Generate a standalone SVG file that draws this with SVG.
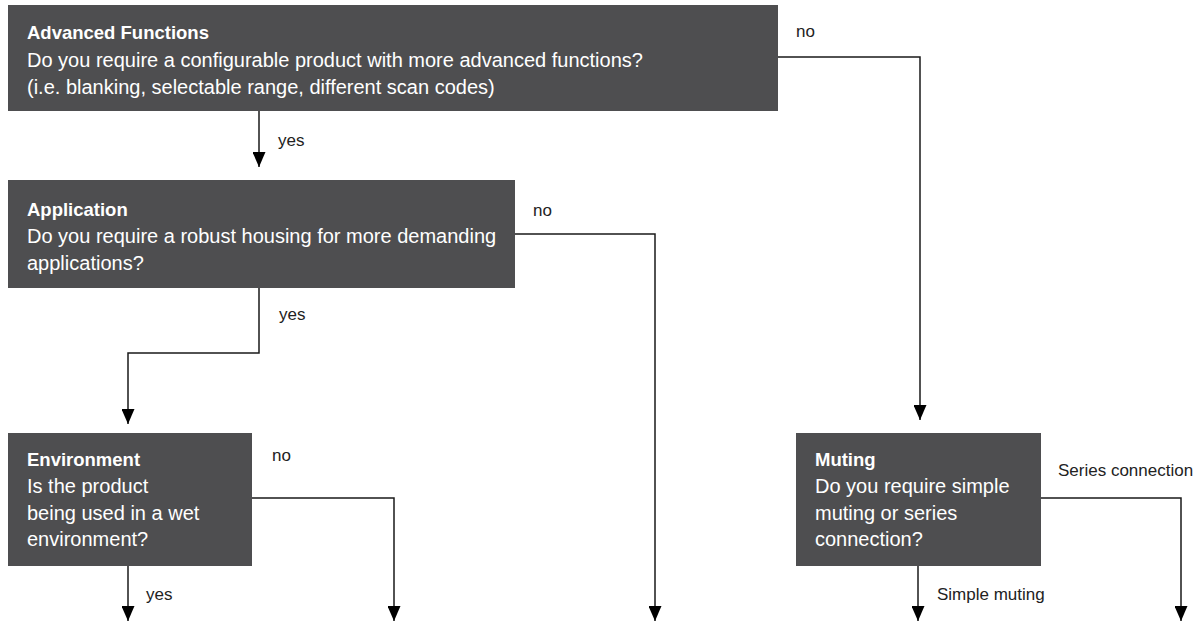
<svg xmlns="http://www.w3.org/2000/svg" width="1201" height="623" viewBox="0 0 1201 623">
  <style>
    .box { fill: #4e4e50; }
    .title { font-family: "Liberation Sans", Arial, sans-serif; font-weight: bold; font-size: 18.5px; fill: #ffffff; }
    .body { font-family: "Liberation Sans", Arial, sans-serif; font-size: 20px; fill: #ffffff; }
    .lbl { font-family: "Liberation Sans", Arial, sans-serif; font-size: 17px; fill: #222222; }
    .conn { fill: none; stroke: #1a1a1a; stroke-width: 1.5; marker-end: url(#arrow); }
  </style>
  <defs>
    <marker id="arrow" viewBox="0 0 15 13" refX="15" refY="6.5" markerWidth="16" markerHeight="13" markerUnits="userSpaceOnUse" orient="auto">
      <path d="M0,0 L15,6.5 L0,13 z" fill="#000000"/>
    </marker>
  </defs>
  <rect width="1201" height="623" fill="#ffffff"/>

  <g id="advanced-functions">
    <rect class="box" x="8" y="5" width="770" height="106"/>
    <text class="title" x="27" y="39">Advanced Functions</text>
    <text class="body" x="27" y="67">Do you require a configurable product with more advanced functions?</text>
    <text class="body" x="27" y="94">(i.e. blanking, selectable range, different scan codes)</text>
  </g>

  <g id="application">
    <rect class="box" x="8" y="180" width="507" height="108"/>
    <text class="title" x="27" y="216">Application</text>
    <text class="body" x="27" y="243">Do you require a robust housing for more demanding</text>
    <text class="body" x="27" y="270">applications?</text>
  </g>

  <g id="environment">
    <rect class="box" x="8" y="433" width="244" height="133"/>
    <text class="title" x="27" y="466">Environment</text>
    <text class="body" x="27" y="493">Is the product</text>
    <text class="body" x="27" y="520">being used in a wet</text>
    <text class="body" x="27" y="546">environment?</text>
  </g>

  <g id="muting">
    <rect class="box" x="796" y="433" width="245" height="133"/>
    <text class="title" x="815" y="466">Muting</text>
    <text class="body" x="815" y="493">Do you require simple</text>
    <text class="body" x="815" y="520">muting or series</text>
    <text class="body" x="815" y="546">connection?</text>
  </g>

  <g id="connectors">
    <polyline class="conn" points="778,57 920,57 920,420"/>
    <polyline class="conn" points="259,111 259,167"/>
    <polyline class="conn" points="515,234 655,234 655,621"/>
    <polyline class="conn" points="259,288 259,353 128,353 128,424"/>
    <polyline class="conn" points="252,498 394,498 394,621"/>
    <polyline class="conn" points="128,566 128,621"/>
    <polyline class="conn" points="1041,498 1181,498 1181,621"/>
    <polyline class="conn" points="918,566 918,621"/>
    <text class="lbl" x="796" y="37">no</text>
    <text class="lbl" x="278" y="146">yes</text>
    <text class="lbl" x="533" y="216">no</text>
    <text class="lbl" x="279" y="320">yes</text>
    <text class="lbl" x="272" y="461">no</text>
    <text class="lbl" x="146" y="600">yes</text>
    <text class="lbl" x="1058" y="476">Series connection</text>
    <text class="lbl" x="937" y="600">Simple muting</text>
  </g>
</svg>
